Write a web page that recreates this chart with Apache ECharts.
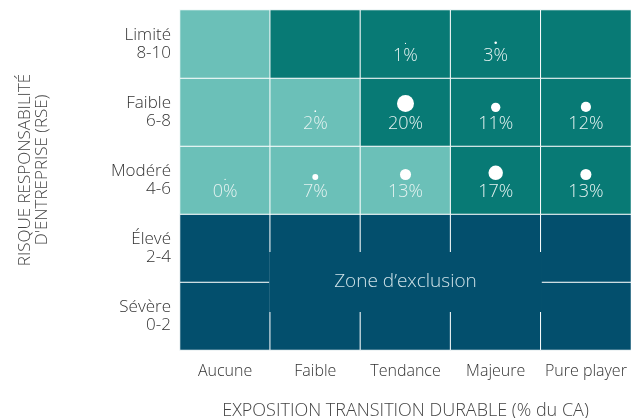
<!DOCTYPE html>
<html>
<head>
<meta charset="utf-8">
<script src="https://cdn.jsdelivr.net/npm/echarts@6/dist/echarts.min.js"></script>
<style>
html,body{margin:0;padding:0;background:#fff;}
#chart{width:631px;height:418px;}
</style>
</head>
<body>
<div id="chart"></div>
<script>
// Categories
const xCategories = ['Aucune', 'Faible', 'Tendance', 'Majeure', 'Pure player'];
const yCategories = ['Sévère\n0-2', 'Élevé\n2-4', 'Modéré\n4-6', 'Faible\n6-8', 'Limité\n8-10'];
// Cell zone level per row (0 = light teal, 1 = dark teal, 2 = exclusion), x order
const zoneSevere = [2, 2, 2, 2, 2];
const zoneEleve  = [2, 2, 2, 2, 2];
const zoneModere = [0, 0, 0, 1, 1];
const zoneFaible = [0, 0, 1, 1, 1];
const zoneLimite = [0, 1, 1, 1, 1];
// Share of portfolio (%) per row, null = empty
const pctModere = [0, 7, 13, 17, 13];
const pctFaible = [null, 2, 20, 11, 12];
const pctLimite = [null, null, 1, 3, null];
const exclusionLabel = "Zone d’exclusion";

const zones = [zoneSevere, zoneEleve, zoneModere, zoneFaible, zoneLimite];
const pcts = [[null,null,null,null,null],[null,null,null,null,null], pctModere, pctFaible, pctLimite];

const heatData = [];
const bubbleData = [];
zones.forEach((row, yi) => {
  row.forEach((lvl, xi) => {
    const p = pcts[yi][xi];
    heatData.push([xi, yi, lvl, p]);
    if (p !== null) {
      bubbleData.push({ value: [xi, yi, p], symbolSize: Math.max(1.2, p * 0.85) });
    }
  });
});

const FONT = '"Open Sans"';
const chart = echarts.init(document.getElementById('chart'));
chart.setOption({
  animation: false,
  grid: { left: 180, right: 0, top: 10, bottom: 68, outerBoundsMode: 'none', containLabel: false },
  xAxis: {
    type: 'category',
    data: xCategories,
    axisLine: { show: false },
    axisTick: { show: false },
    splitLine: { show: false },
    axisLabel: { interval: 0, color: '#333', fontFamily: FONT, fontWeight: 300, fontSize: 16, margin: 13 },
    name: 'EXPOSITION TRANSITION DURABLE (% du CA)',
    nameLocation: 'middle',
    nameGap: 52,
    nameTextStyle: { color: '#444', fontFamily: FONT, fontWeight: 300, fontSize: 18 }
  },
  yAxis: {
    type: 'category',
    data: yCategories,
    axisLine: { show: false },
    axisTick: { show: false },
    splitLine: { show: false },
    axisLabel: { color: '#333', fontFamily: FONT, fontWeight: 300, fontSize: 17, lineHeight: 18, align: 'right', margin: 9 },
    name: "RISQUE RESPONSABILITÉ\nD'ENTREPRISE (RSE)",
    nameLocation: 'middle',
    nameRotate: 90,
    nameGap: 129,
    nameTextStyle: { color: '#444', fontFamily: FONT, fontWeight: 300, fontSize: 17, lineHeight: 17, padding: [0, 0, 0, 20] }
  },
  visualMap: {
    type: 'piecewise',
    show: false,
    dimension: 2,
    seriesIndex: 0,
    pieces: [
      { value: 0, color: '#6bc0b8' },
      { value: 1, color: '#087a75' },
      { value: 2, color: '#034f6d' }
    ]
  },
  series: [
    {
      type: 'heatmap',
      data: heatData,
      itemStyle: { borderColor: '#ffffff', borderWidth: 1 },
      emphasis: { disabled: true },
      label: {
        show: true,
        offset: [0, 12],
        color: '#e4f2f0',
        fontFamily: FONT,
        fontWeight: 300,
        fontSize: 18,
        formatter: p => (p.data[3] === null ? '' : p.data[3] + '%')
      }
    },
    {
      type: 'custom',
      data: [[1, 3, 1, 0]],
      z: 5,
      renderItem: function (params, api) {
        const a = api.coord([api.value(0), api.value(2)]);
        const b = api.coord([api.value(1), api.value(3)]);
        const sz = api.size([1, 1]);
        const x0 = a[0] - sz[0] / 2 - 1;
        const x1 = b[0] + sz[0] / 2 + 1;
        const yc = (a[1] + b[1]) / 2;
        const h = sz[1] * 0.88;
        return {
          type: 'group',
          children: [
            { type: 'rect', shape: { x: x0, y: yc - h / 2, width: x1 - x0, height: h }, style: { fill: '#034f6d' } },
            { type: 'text', x: (x0 + x1) / 2, y: yc, style: { text: exclusionLabel, fill: '#cfe2e8', font: '300 19px "Open Sans"', align: 'center', verticalAlign: 'middle' } }
          ]
        };
      }
    },
    {
      type: 'scatter',
      data: bubbleData,
      z: 6,
      symbol: 'circle',
      symbolOffset: [0, '-50%'],
      itemStyle: { color: '#ffffff', opacity: 1 },
      emphasis: { disabled: true }
    }
  ]
});
</script>
</body>
</html>
